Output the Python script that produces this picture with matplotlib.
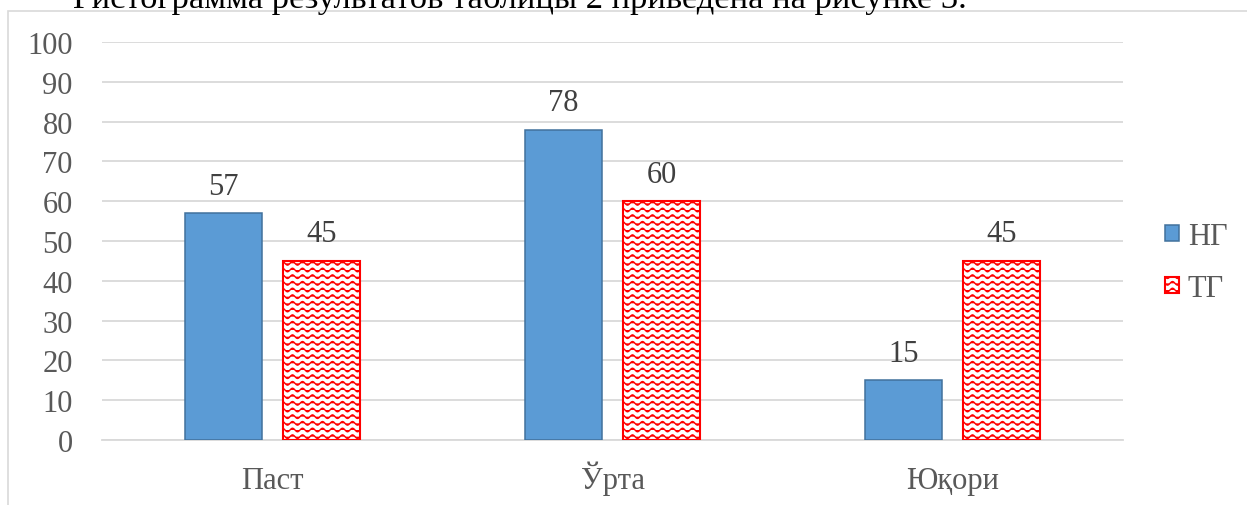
import warnings

import numpy as np
import matplotlib
matplotlib.use("Agg")
import matplotlib.pyplot as plt
from matplotlib import hatch as mhatch
from matplotlib.path import Path
from matplotlib.patches import Rectangle

warnings.filterwarnings("ignore", category=matplotlib.MatplotlibDeprecationWarning)

# =============================================================================
# Data
# =============================================================================

categories = ["Паст", "Ўрта", "Юқори"]
series_names = ["НГ", "ТГ"]
ng_values = [57, 78, 15]
tg_values = [45, 60, 45]
y_ticks = [0, 10, 20, 30, 40, 50, 60, 70, 80, 90, 100]

caption = "Гистограмма результатов таблицы 2 приведена на рисунке 3."


# =============================================================================
# Wave hatch (Office "wave" pattern), drawn with '~'
# =============================================================================

class WaveHatch(mhatch.HatchPatternBase):
    n_pts = 121

    def __init__(self, hatch, density):
        self.num_lines = 15 if "~" in hatch else 0
        self.num_vertices = self.num_lines * self.n_pts

    def set_vertices_and_codes(self, vertices, codes):
        t = np.linspace(0, 1, self.n_pts)
        for i in range(self.num_lines):
            y0 = (i + 0.5) / self.num_lines
            sl = slice(i * self.n_pts, (i + 1) * self.n_pts)
            vertices[sl, 0] = t
            vertices[sl, 1] = y0 + 0.018 * np.sin(2 * np.pi * 10 * t)
            codes[sl] = Path.LINETO
            codes[i * self.n_pts] = Path.MOVETO


mhatch._hatch_types.append(WaveHatch)


# =============================================================================
# Plot
# =============================================================================

plt.rcParams["font.family"] = ["Liberation Serif", "DejaVu Serif"]
plt.rcParams["hatch.linewidth"] = 1.0

W, H = 1247, 506
fig = plt.figure(figsize=(W / 100, H / 100), dpi=100)
ax = fig.add_axes([102 / W, 1 - 441 / H, (1123 - 102) / W, (441 - 43) / H])

# chart border (partly outside the picture)
fig.patches.append(Rectangle((8 / W, -0.1), 1.2, 1.1 - 12 / H,
                             transform=fig.transFigure, fill=False,
                             edgecolor="#d9d9d9", linewidth=1.2))

x = np.arange(len(categories))
width = 0.227
offset = 0.144

bars_ng = ax.bar(x - offset, ng_values, width, color="#5b9bd5",
                 edgecolor="#41719c", linewidth=1.1, label=series_names[0], zorder=3)
bars_tg = ax.bar(x + offset, tg_values, width, color="white",
                 edgecolor="#ff0000", linewidth=1.5, hatch="~",
                 label=series_names[1], zorder=3)

for bars in (bars_ng, bars_tg):
    ax.bar_label(bars, padding=9, fontsize=22, color="#404040")

ax.set_xlim(-0.5, len(categories) - 0.5)
ax.set_ylim(0, 100)
ax.set_yticks(y_ticks)
ax.set_xticks(x)
ax.set_xticklabels(categories)

ax.grid(axis="y", color="#d9d9d9", linewidth=1.3, zorder=0)
ax.set_axisbelow(True)
for side in ("top", "right", "left"):
    ax.spines[side].set_visible(False)
ax.spines["bottom"].set_color("#d9d9d9")
ax.spines["bottom"].set_linewidth(1.3)
ax.tick_params(axis="both", length=0, labelsize=22, labelcolor="#595959")
ax.tick_params(axis="y", pad=21)
ax.tick_params(axis="x", pad=34.5)
for lbl in ax.get_xticklabels():
    lbl.set_verticalalignment("baseline")

fig.legend(handles=[bars_ng, bars_tg], labels=series_names,
           loc="center left", bbox_to_anchor=(1165 / W, 1 - 263.5 / H),
           frameon=False, fontsize=22, labelcolor="#595959",
           handlelength=0.45, handleheight=0.45, handletextpad=0.3,
           labelspacing=0.75, borderpad=0, borderaxespad=0)

fig.text(73 / W, 1 - 8 / H, caption, ha="left", va="baseline",
         fontsize=24.8, color="black")

fig.savefig("out.png", dpi=100)
print("Saved: out.png")
